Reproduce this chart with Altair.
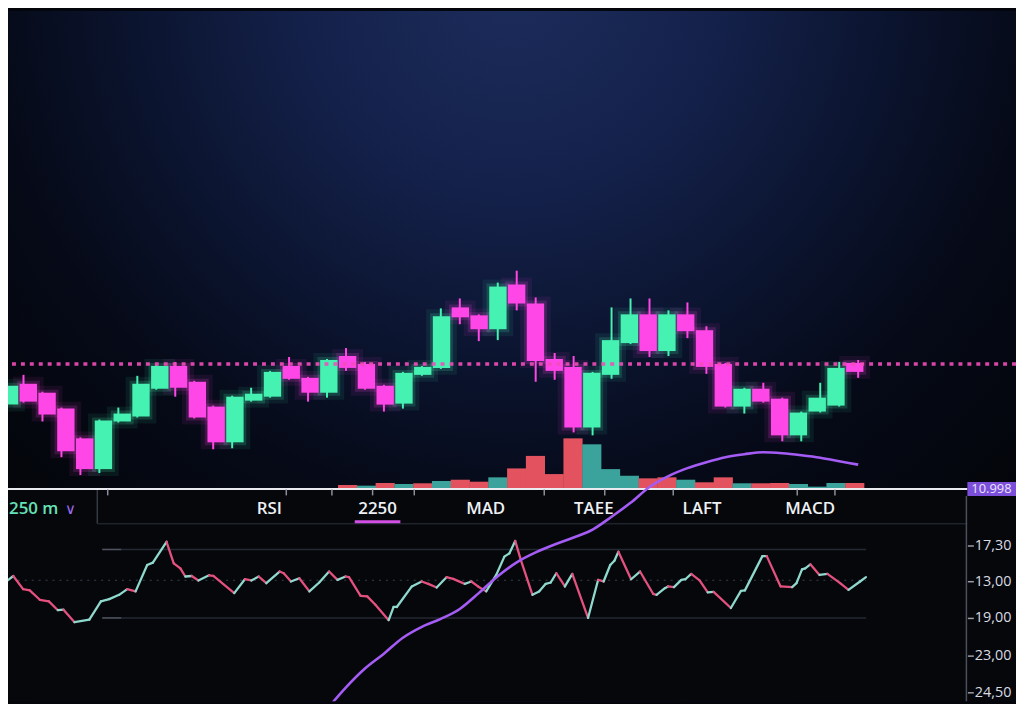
import altair as alt
import pandas as pd

# ---------------- data ----------------
opens = [89.75, 95.0, 92.75, 88.75, 81.25, 73.5, 85.5, 86.75, 93.75, 99.5,
         95.5, 89.25, 80.25, 90.75, 91.75, 99.5, 96.5, 92.75, 102.0, 100.0,
         94.5, 90.0, 97.25, 99.0, 114.25, 112.25, 108.75, 120.0, 115.25, 101.25,
         99.25, 84.0, 97.25, 105.25, 112.5, 103.25, 112.5, 108.5, 100.0, 89.25,
         93.75, 91.25, 82.0, 88.0, 89.5, 100.25]
closes = [94.5, 90.5, 87.25, 78.0, 73.5, 85.75, 87.5, 95.0, 99.5, 94.0,
          86.5, 80.25, 91.75, 92.5, 98.0, 96.25, 92.75, 101.0, 99.0, 93.75,
          89.75, 97.75, 99.25, 112.0, 111.75, 108.75, 119.5, 115.25, 100.75, 98.25,
          84.0, 97.75, 106.0, 112.5, 103.25, 112.5, 108.25, 99.25, 89.25, 93.75,
          90.5, 82.0, 87.75, 91.5, 99.0, 98.0]
highs = [96.75, 97.25, 93.0, 89.0, 81.5, 86.0, 89.0, 97.0, 99.75, 100.5,
         95.75, 89.5, 92.0, 94.0, 98.25, 101.75, 96.75, 101.25, 104.0, 100.5,
         94.75, 98.0, 99.5, 114.0, 116.5, 112.5, 120.5, 123.5, 116.75, 102.75,
         102.0, 98.0, 114.25, 116.5, 116.5, 113.5, 115.5, 109.5, 100.25, 94.0,
         95.25, 91.5, 88.0, 95.25, 100.5, 101.0]
lows = [89.5, 90.25, 85.5, 76.5, 72.0, 72.5, 85.25, 86.5, 93.5, 91.75,
        86.25, 78.5, 78.75, 90.5, 91.5, 96.0, 90.5, 91.5, 98.25, 93.5,
        88.0, 88.75, 97.0, 98.75, 110.0, 105.75, 106.0, 113.5, 95.5, 96.0,
        82.75, 82.0, 96.25, 105.0, 101.75, 102.0, 106.5, 97.5, 89.0, 87.5,
        90.25, 80.5, 80.5, 87.75, 89.25, 96.5]

vol_first = 18
volumes = [400, 330, 600, 500, 570, 800, 930, 730, 1170, 2070,
           3330, 1500, 5100, 4500, 2000, 1330, 1070, 1170, 930, 670,
           1170, 570, 570, 600, 500, 230, 600, 600]
vol_side = ["down", "up", "down", "up", "down", "up", "down", "down", "up", "down",
            "down", "down", "down", "up", "up", "up", "down", "down", "up", "down",
            "down", "up", "down", "down", "up", "up", "up", "down"]

macd_first = 17
macd_vals = [-11.2, -9.0, -7.1, -5.6, -4.0, -2.9, -2.1, -1.1, 0.5, 2.2,
             3.6, 4.6, 5.4, 6.1, 6.9, 8.2, 9.6, 11.2, 12.3, 13.1,
             13.7, 14.2, 14.5, 14.7, 14.6, 14.4, 14.15, 13.8, 13.45]

rsi_t = [-0.24, 0.46, 0.98, 1.33, 1.86, 2.34, 2.81, 3.11, 3.69, 4.47,
         5.08, 5.52, 6.04, 6.47, 6.91, 7.52, 7.82, 8.54, 8.92, 9.27,
         9.53, 9.87, 10.22, 10.78, 11.01, 12.11, 12.67, 13.01, 13.40, 13.80,
         14.50, 14.72, 15.10, 15.54, 16.07, 16.59, 17.11, 17.55, 17.98, 18.16,
         18.77, 19.12, 19.55, 20.25, 20.51, 20.68, 21.47, 21.99, 22.34, 22.78,
         23.30, 23.65, 24.26, 24.61, 24.96, 25.39, 25.92, 26.35, 26.61, 26.92,
         27.22, 27.83, 28.18, 28.53, 28.79, 29.09, 29.54, 29.93, 30.76, 31.29,
         31.58, 31.93, 32.15, 32.36, 33.03, 33.50, 34.19, 34.37, 34.81, 34.98,
         35.29, 35.68, 35.89, 36.20, 36.64, 37.07, 37.38, 38.29, 38.82, 39.03,
         39.95, 40.18, 40.91, 41.52, 41.75, 42.04, 42.21, 42.48, 42.96, 43.38,
         44.05, 44.49, 45.10, 45.41]
rsi_v = [48.4, 54.5, 46.8, 46.1, 40.6, 39.7, 34.5, 34.8, 27.5, 29.0,
         39.7, 41.0, 43.5, 46.8, 45.5, 60.9, 62.3, 74.5, 61.9, 59.0,
         54.2, 54.5, 51.9, 54.9, 54.5, 44.5, 52.6, 51.9, 54.2, 50.3,
         57.1, 56.1, 51.3, 53.2, 45.5, 50.7, 57.1, 52.2, 54.2, 53.8,
         42.9, 42.6, 37.7, 28.7, 36.4, 36.4, 48.4, 51.3, 49.9, 47.8,
         53.8, 52.8, 49.9, 51.3, 48.4, 45.5, 55.1, 65.8, 67.7, 75.0,
         63.8, 43.5, 45.5, 49.9, 50.7, 56.1, 48.4, 55.7, 30.0, 52.2,
         51.3, 60.9, 63.4, 68.7, 52.6, 57.1, 44.1, 43.5, 47.4, 48.4,
         48.0, 52.2, 52.6, 55.7, 51.9, 44.9, 45.2, 35.8, 45.8, 46.1,
         66.1, 66.1, 48.4, 48.0, 50.3, 58.4, 59.0, 61.3, 55.1, 55.7,
         50.3, 46.4, 51.3, 53.8]

tabs = ["RSI", "2250", "MAD", "TAEE", "LAFT", "MACD"]
active_tab = "2250"
interval_label = "250 m"
right_labels = ["17,30", "13,00", "19,00", "23,00", "24,50"]
right_label_levels = [72.32, 51.45, 30.0, 7.97, -13.48]
last_price_label = "10.998"
time_ticks = [5.20, 14.72, 17.13, 19.32, 21.52, 28.43, 31.67, 35.33, 41.92, 43.91]
price_ref = 100
rsi_upper, rsi_lower, rsi_mid = 70, 30, 52
rsi_band_start, rsi_mid_start, series_end, panel_end = 5.15, 0.7, 45.42, 50.76

# ---------------- tables ----------------
cdf = pd.DataFrame({"i": list(range(len(opens))), "open": opens, "close": closes,
                    "high": highs, "low": lows})
cdf["dir"] = ["up" if c >= o else "down" for o, c in zip(opens, closes)]

vdf = pd.DataFrame({"i": [vol_first + k for k in range(len(volumes))],
                    "vol": volumes, "side": vol_side})

mdf = pd.DataFrame({"i": [macd_first + k for k in range(len(macd_vals))], "m": macd_vals})

rdf = pd.DataFrame({"t": rsi_t[:-1], "r": rsi_v[:-1], "t2": rsi_t[1:], "r2": rsi_v[1:]})
rdf["dir"] = ["up" if b >= a else "down" for a, b in zip(rsi_v[:-1], rsi_v[1:])]

bands = pd.DataFrame({"level": [rsi_upper, rsi_lower],
                      "start": [rsi_band_start] * 2, "end": [series_end] * 2})
band_heads = pd.DataFrame({"level": [rsi_upper, rsi_lower],
                           "start": [rsi_band_start] * 2, "end": [rsi_band_start + 1.0] * 2})
mid = pd.DataFrame({"level": [rsi_mid], "start": [rsi_mid_start], "end": [series_end]})
tabdf = pd.DataFrame({"tab": tabs})
one = pd.DataFrame({"k": [0]})

# ---------------- style ----------------
W, H = 1016, 696
GREEN, PINK = "#46f2b2", "#ff46e6"
VRED, VTEAL = "#e2535f", "#3ba39b"
RUP, RDOWN = "#8fd8cd", "#e4517f"
PURPLE = "#a45cf4"
FONT = "Open Sans"

xscale = alt.Scale(domain=[0.1831, 53.32], nice=False, zero=False)
price_scale = alt.Scale(domain=[15, 189], nice=False, zero=False)
vol_scale = alt.Scale(domain=[-21400, 48200], nice=False, zero=False)
rsi_scale = alt.Scale(domain=[-18.7, 384.8], nice=False, zero=False)
macd_scale = alt.Scale(domain=[-10.4, 59.2], nice=False, zero=False)

cand_color = alt.Scale(domain=["up", "down"], range=[GREEN, PINK])

bg = alt.Chart(one).mark_rect(fill={
    "gradient": "radial", "x1": 0.5, "y1": 0.13, "r1": 0, "x2": 0.5, "y2": 0.13, "r2": 0.72,
    "stops": [{"offset": 0, "color": "#1c2c5b"}, {"offset": 0.28, "color": "#14214b"},
              {"offset": 0.52, "color": "#0b142f"}, {"offset": 0.72, "color": "#060a18"},
              {"offset": 1, "color": "#030509"}]}).encode(
    x=alt.value(0), x2=alt.value(W), y=alt.value(0), y2=alt.value(H))

lower_bg = alt.Chart(one).mark_rect(fill="#05070b").encode(
    x=alt.value(0), x2=alt.value(W), y=alt.value(482), y2=alt.value(H))

tab_line = alt.Chart(one).mark_rule(color="#1f232c", strokeWidth=1.5).encode(
    x=alt.value(90), x2=alt.value(967), y=alt.value(517))
tab_div = alt.Chart(one).mark_rule(color="#353a45", strokeWidth=1.5).encode(
    x=alt.value(90), y=alt.value(482), y2=alt.value(517))

volume = alt.Chart(vdf).mark_bar(size=19.3).encode(
    x=alt.X("i:Q", scale=xscale, axis=None),
    y=alt.Y("vol:Q", scale=vol_scale, axis=None),
    y2=alt.datum(0),
    color=alt.Color("side:N", scale=alt.Scale(domain=["up", "down"], range=[VTEAL, VRED]), legend=None))

glow1 = alt.Chart(cdf).mark_bar(size=17, fillOpacity=0, strokeWidth=14, strokeOpacity=0.08).encode(
    x=alt.X("i:Q", scale=xscale, axis=None),
    y=alt.Y("open:Q", scale=price_scale, axis=None), y2="close:Q",
    stroke=alt.Stroke("dir:N", scale=cand_color, legend=None))
glow2 = alt.Chart(cdf).mark_bar(size=17, fillOpacity=0, strokeWidth=6, strokeOpacity=0.17).encode(
    x=alt.X("i:Q", scale=xscale, axis=None),
    y=alt.Y("open:Q", scale=price_scale, axis=None), y2="close:Q",
    stroke=alt.Stroke("dir:N", scale=cand_color, legend=None))

wicks = alt.Chart(cdf).mark_rule(strokeWidth=2).encode(
    x=alt.X("i:Q", scale=xscale, axis=None),
    y=alt.Y("low:Q", scale=price_scale, axis=None), y2="high:Q",
    color=alt.Color("dir:N", scale=cand_color, legend=None))

bodies = alt.Chart(cdf).mark_bar(size=17.5).encode(
    x=alt.X("i:Q", scale=xscale,
            axis=alt.Axis(orient="bottom", offset=-214, values=time_ticks, labels=False,
                          domain=False, ticks=True, tickSize=6, tickWidth=1.5,
                          tickColor="#8b909a", grid=False, title=None, zindex=1)),
    y=alt.Y("open:Q", scale=price_scale, axis=None), y2="close:Q",
    color=alt.Color("dir:N", scale=cand_color, legend=None))

ref_line = alt.Chart(one).mark_rule(color="#f24db8", strokeDash=[4, 5], strokeWidth=3.5,
                                    opacity=0.9).encode(
    y=alt.Y(datum=price_ref, scale=price_scale, axis=None))

separator = alt.Chart(one).mark_rule(color="#e9ebf0", strokeWidth=2).encode(
    x=alt.X(datum=0, scale=xscale, axis=None), x2=alt.datum(panel_end),
    y=alt.Y(datum=0, scale=vol_scale, axis=None))

band_lines = alt.Chart(bands).mark_rule(color="#242832", strokeWidth=1.5).encode(
    x=alt.X("start:Q", scale=xscale, axis=None), x2="end:Q",
    y=alt.Y("level:Q", scale=rsi_scale,
            axis=alt.Axis(orient="right", offset=-49, values=right_label_levels,
                          labelExpr=("datum.value > 60 ? '17,30' : datum.value > 40 ? '13,00' : "
                                     "datum.value > 20 ? '19,00' : datum.value > 0 ? '23,00' : '24,50'"),
                          domain=False, ticks=True, tickSize=6, tickWidth=1.5, tickColor="#9a9ea8",
                          labelColor="#d8dbe2", labelFont=FONT, labelFontSize=14.5, labelPadding=1,
                          labelOverlap=False, grid=False, title=None, zindex=1)))
band_head = alt.Chart(band_heads).mark_rule(color="#4c515c", strokeWidth=1.5).encode(
    x=alt.X("start:Q", scale=xscale, axis=None), x2="end:Q",
    y=alt.Y("level:Q", scale=rsi_scale, axis=None))
mid_line = alt.Chart(mid).mark_rule(color="#3a404b", strokeWidth=1.2, strokeDash=[2, 5]).encode(
    x=alt.X("start:Q", scale=xscale, axis=None), x2="end:Q",
    y=alt.Y("level:Q", scale=rsi_scale, axis=None))

rsi = alt.Chart(rdf).mark_rule(strokeWidth=2.3, strokeCap="round", clip=True).encode(
    x=alt.X("t:Q", scale=xscale, axis=None), x2="t2:Q",
    y=alt.Y("r:Q", scale=rsi_scale, axis=None), y2="r2:Q",
    color=alt.Color("dir:N", scale=alt.Scale(domain=["up", "down"], range=[RUP, RDOWN]), legend=None))

macd = alt.Chart(mdf).mark_line(color=PURPLE, strokeWidth=2.6, clip=True, interpolate="monotone").encode(
    x=alt.X("i:Q", scale=xscale, axis=None),
    y=alt.Y("m:Q", scale=macd_scale, axis=None))

right_vline = alt.Chart(one).mark_rule(color="#4a4f5a", strokeWidth=1.5).encode(
    x=alt.value(966), y=alt.value(489), y2=alt.value(H))

tab_text = alt.Chart(tabdf).mark_text(font=FONT, fontSize=17, fontWeight=600, color="#eef0f4",
                                      baseline="middle", align="center").encode(
    x=alt.X("tab:N", scale=alt.Scale(type="point", domain=tabs, range=[209, 863]), axis=None),
    y=alt.value(502), text="tab:N")
underline = alt.Chart(pd.DataFrame({"tab": [active_tab]})).mark_tick(
    orient="horizontal", size=46, thickness=3, color="#d24fe6", opacity=1).encode(
    x=alt.X("tab:N", scale=alt.Scale(type="point", domain=tabs, range=[209, 863]), axis=None),
    y=alt.value(515))

interval = alt.Chart(pd.DataFrame({"lab": [interval_label]})).mark_text(
    font=FONT, fontSize=17, fontWeight=600, color="#66e2b6", align="left", baseline="middle").encode(
    x=alt.value(1), y=alt.value(502), text="lab:N")
chevron = alt.Chart(pd.DataFrame({"lab": ["∨"]})).mark_text(
    font="DejaVu Sans", fontSize=15, color="#9d6cf2", align="center", baseline="middle").encode(
    x=alt.value(63), y=alt.value(502), text="lab:N")

badge = alt.Chart(one).mark_rect(fill="#7b4fd9").encode(
    x=alt.value(967), x2=alt.value(W), y=alt.value(475), y2=alt.value(489))
badge_text = alt.Chart(pd.DataFrame({"lab": [last_price_label]})).mark_text(
    font=FONT, fontSize=13, color="#ece4ff", align="left", baseline="middle").encode(
    x=alt.value(971), y=alt.value(482.5), text="lab:N")

chart = alt.layer(
    bg, lower_bg, tab_line, tab_div, volume, glow1, glow2, wicks, bodies, ref_line,
    separator, band_lines, band_head, mid_line, rsi, macd, right_vline,
    tab_text, underline, interval, chevron, badge, badge_text
).resolve_scale(
    x="independent", y="independent", color="independent", stroke="independent"
).properties(
    width=W, height=H, padding=0, autosize=alt.AutoSizeParams(type="none"),
    background="#03050a"
).configure_view(stroke=None)

chart.save("out.html", embed_options={"renderer": "svg", "actions": False})
